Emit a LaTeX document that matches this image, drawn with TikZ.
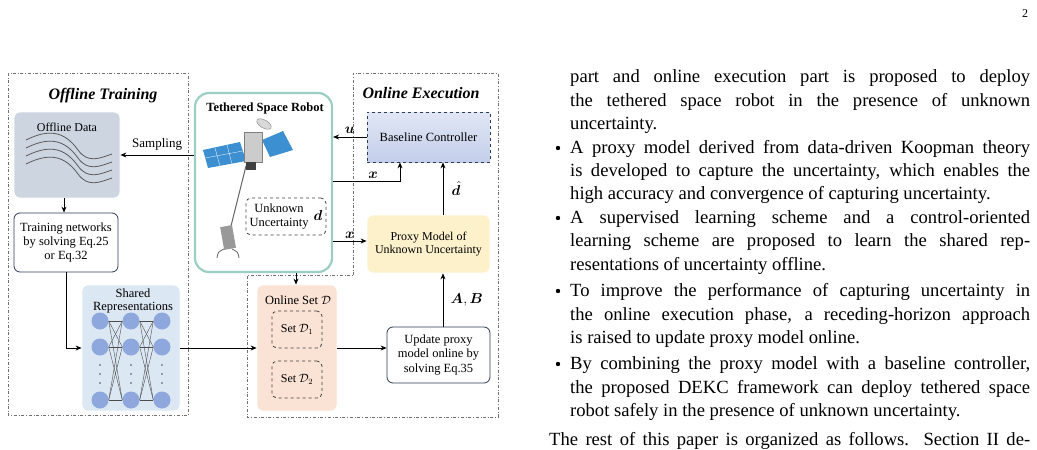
\documentclass[tikz,border=0pt]{standalone}
\usepackage{fontspec}
\setmainfont{Liberation Serif}
\usepackage{amsmath,bm}
\usetikzlibrary{arrows.meta,calc}
\definecolor{dgray}{HTML}{707070}
\definecolor{bordb}{HTML}{2E3B55}
\definecolor{teal}{HTML}{9CCFC3}
\definecolor{datag}{HTML}{CDD5E1}
\definecolor{shb}{HTML}{DCE7F4}
\definecolor{neur}{HTML}{8EA7DC}
\definecolor{bcb}{HTML}{C3CEEA}
\definecolor{pmy}{HTML}{FCF1CB}
\definecolor{osr}{HTML}{FAE2D4}
\definecolor{pan}{HTML}{3C8FD0}
\newcommand\myfsz[1]{\fontsize{#1}{\fpeval{#1*1.15}}\selectfont}
\tikzset{
 reg/.style={draw=dgray,dash dot,line width=0.6pt},
 fs/.style={font=\myfsz{#1}},
 box/.style={draw=bordb,rounded corners=6pt,line width=0.8pt,align=center,fs=12.5,inner sep=0pt},
 dbox/.style={draw=black!75,dashed,rounded corners=5pt,line width=0.8pt,align=center,fs=12,inner sep=0pt},
 arr/.style={-{Stealth[length=6pt,width=5pt]},line width=0.8pt},
 lab/.style={fs=13},
 mlab/.style={fs=15},
 neu/.style={circle,fill=neur,minimum size=17pt,inner sep=0pt},
 tl/.style={anchor=base west,inner sep=0pt,fs=18.6},
}
\begin{document}
\begin{tikzpicture}[x=1pt,y=-1pt]
\useasboundingbox (0,0) rectangle (1037,450);
% regions
\draw[reg] (8,73) rectangle (188,415);
\draw[reg] (353,275) -- (353,73) -- (498,73) -- (498,417) -- (247,417) -- (247,275) -- cycle;
\node[font=\bfseries\itshape\myfsz{16}] (offt) at (103,96) {Offline Training};
\node[font=\bfseries\itshape\myfsz{16}] (onex) at (421,93) {Online Execution};
% offline data
\node[box,draw=white,fill=datag,minimum width=106pt,minimum height=86pt] (data) at (67,155) {};
\node[fs=12] (datat) at (67,127) {Offline Data};
\foreach \d in {0,8,16,24}{
 \draw[dgray!80!black,line width=0.8pt] (26,{140+\d}) .. controls (50,{128+\d}) and (65,{132+\d}) .. (78,{150+\d}) .. controls (88,{164+\d}) and (100,{158+\d}) .. (112,{154+\d});}
\node[box,fill=white,minimum width=104pt,minimum height=59pt] (train) at (66,242.5) {Training networks\\by solving Eq.25\\or Eq.32};
% shared
\node[box,draw=white,fill=shb,minimum width=98pt,minimum height=126pt] (shared) at (131,348) {};
\node[align=center,fs=12.5] (sharedt) at (133,301) {Shared\\[-2pt]Representations};
\foreach \i/\x in {1/100,2/131,3/162}{
 \foreach \j/\y in {1/321,2/347,3/400}{\node[neu] (n\i\j) at (\x,\y) {};}
 \foreach \y in {365,374,383}{\fill[black!70] (\x,\y) circle (0.9pt);}}
\foreach \a/\b in {1/2,2/3}{\foreach \j in {1,2,3}{\foreach \k in {1,2,3}{\draw[black!70,line width=0.4pt] (n\a\j.east) -- (n\b\k.west);}}}
% robot
\node[box,draw=teal,line width=2.2pt,rounded corners=14pt,minimum width=137pt,minimum height=179pt] (robot) at (263.5,182.5) {};
\node[font=\bfseries\myfsz{12.5}] (robt) at (265,108) {Tethered Space Robot};
\node[dbox,minimum width=80pt,minimum height=37pt] (unk) at (286,216.5) {};
\node[align=center,fs=12.5] (unkt) at (279,216.5) {Unknown\\Uncertainty};
\node[mlab] (dd) at (318,215) {$\bm{d}$};
% satellite drawing
\fill[pan] (203,150) -- (240,142) -- (246,161) -- (208,168) -- cycle;
\draw[white,line width=0.3pt] (215,148)--(220,166) (227,145)--(232,164) (205,158)--(243,151);
\fill[pan] (262,140) -- (283,131) -- (293,150) -- (270,157) -- cycle;
\draw[black!60,line width=1pt] (246,166) -- (231,226);
\fill[black!20] (244,132) rectangle (262,162);
\draw[black!50,line width=0.4pt] (244,132) rectangle (262,162);
\fill[black!75] (246,162) rectangle (256,170);
\fill[black!15,rotate around={-30:(264,124)}] (264,124) ellipse (8pt and 4pt);
\draw[black!50,rotate around={-30:(264,124)},line width=0.4pt] (264,124) ellipse (8pt and 4pt);
\fill[black!40,rotate around={10:(228,237)}] (222,226) rectangle (234,249);
\draw[black!60,line width=0.8pt] (224,249) .. controls (218,252) .. (217,258) (232,249) .. controls (238,252) .. (239,258);
% online boxes
\node[dbox,draw=bordb,rounded corners=0pt,top color=bcb!50,bottom color=bcb,minimum width=123pt,minimum height=50pt,fs=12.5] (base) at (428.5,137) {Baseline Controller};
\node[box,draw=white,fill=pmy,minimum width=123pt,minimum height=58pt,fs=12] (proxy) at (428.5,244) {Proxy Model of\\Unknown Uncertainty};
\node[box,draw=white,fill=osr,minimum width=80pt,minimum height=126pt] (oset) at (297,348) {};
\node[fs=12.5] (osett) at (298,300) {Online Set $\mathcal{D}$};
\node[dbox,minimum width=50pt,minimum height=37pt] (s1) at (297,329.5) {Set $\mathcal{D}_1$};
\node[dbox,minimum width=50pt,minimum height=37pt] (s2) at (297,379.5) {Set $\mathcal{D}_2$};
\node[box,fill=white,minimum width=103pt,minimum height=56pt] (upd) at (438.5,355) {Update proxy\\model online by\\solving Eq.35};
% arrows
\draw[arr] (robot.west |- 0,155) -- node[lab,above=1pt]{Sampling} (data.east |- 0,155);
\draw[arr] (data.south -| 64,0) -- (train.north -| 64,0);
\draw[arr] (train.south) |- (shared.west);
\draw[arr] (shared.east) -- (oset.west);
\draw[arr] (robot.south -| 296,0) -- (oset.north -| 296,0);
\draw[arr] (oset.east) -- (upd.west |- oset.east);
\draw[arr] (upd.north -| 443,0) -- node[mlab,right=4pt]{$\bm{A},\bm{B}$} (proxy.south -| 443,0);
\draw[arr] (proxy.north -| 443,0) -- node[mlab,right=5pt]{$\hat{\bm{d}}$} (base.south -| 443,0);
\draw[arr] (base.west) -- node[mlab,above=0pt]{$\bm{u}$} (robot.east |- base.west);
\coordinate (xc) at (400,181);
\draw[arr] (robot.east |- xc) -- node[mlab,above=-1pt,pos=0.6]{$\bm{x}$} (xc) -- (base.south -| xc);
\draw[arr] (robot.east |- 0,241) -- node[mlab,above=-1pt]{$\bm{x}$} (proxy.west |- 0,241);
% text column
\node[tl,fs=12] (pg) at (1022,17) {2};
\def\J#1{\makebox[460pt][s]{#1}}
\node[tl] (l1) at (570,82) {\J{part and online execution part is proposed to deploy}};
\node[tl] (l2) at (570,106) {\J{the tethered space robot in the presence of unknown}};
\node[tl] (l3) at (570,129) {uncertainty.};
\node[tl] (l4) at (570,153) {\J{A proxy model derived from data-driven Koopman theory}};
\node[tl] (l5) at (570,176) {\J{is developed to capture the uncertainty, which enables the}};
\node[tl] (l6) at (570,199) {high accuracy and convergence of capturing uncertainty.};
\node[tl] (l7) at (570,223) {\J{A supervised learning scheme and a control-oriented}};
\node[tl] (l8) at (570,246) {\J{learning scheme are proposed to learn the shared rep-}};
\node[tl] (l9) at (570,270) {resentations of uncertainty offline.};
\node[tl] (l10) at (570,296) {\J{To improve the performance of capturing uncertainty in}};
\node[tl] (l11) at (570,320) {\J{the online execution phase, a receding-horizon approach}};
\node[tl] (l12) at (570,343) {is raised to update proxy model online.};
\node[tl] (l13) at (570,369) {\J{By combining the proxy model with a baseline controller,}};
\node[tl] (l14) at (570,393) {\J{the proposed DEKC framework can deploy tethered space}};
\node[tl] (l15) at (570,416) {robot safely in the presence of unknown uncertainty.};
\node[tl] (l16) at (549,445) {\makebox[481pt][s]{The rest of this paper is organized as follows. Section II de-}};
\foreach \y in {148,218,291,364}{\fill (558,\y) circle (2.2pt);}
\end{tikzpicture}
\end{document}
